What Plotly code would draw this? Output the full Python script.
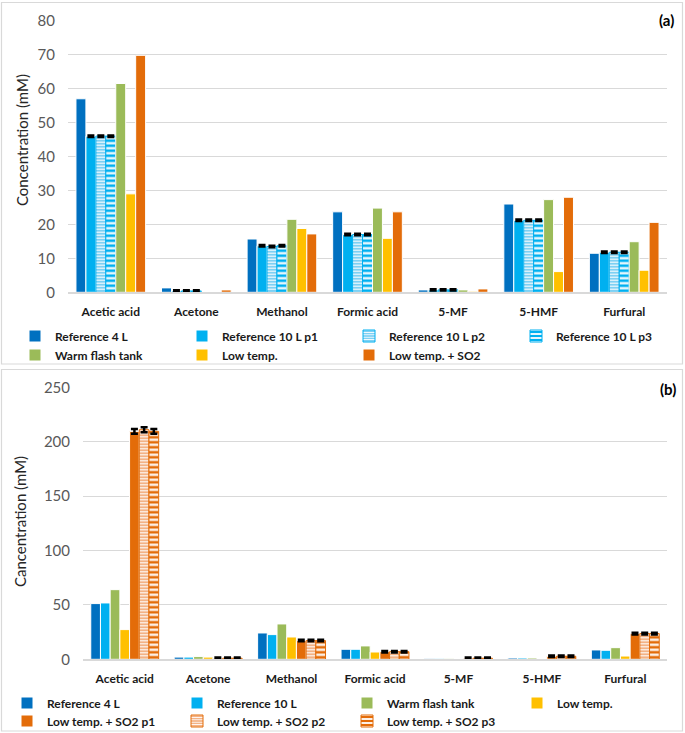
import plotly.graph_objects as go

W, H = 685, 733

categories = ["Acetic acid", "Acetone", "Methanol", "Formic acid", "5-MF", "5-HMF", "Furfural"]

# Panel (a)
a_ref4 = [57.0, 1.3, 15.7, 23.7, 0.7, 26.0, 11.5]
a_ref10_p1 = [46.0, 0.4, 13.7, 17.0, 0.7, 21.2, 11.8]
a_ref10_p2 = [46.0, 0.4, 13.5, 17.0, 0.7, 21.2, 11.8]
a_ref10_p3 = [46.0, 0.4, 13.7, 17.0, 0.7, 21.2, 11.8]
a_warm = [61.5, 0.0, 21.5, 24.8, 0.7, 27.3, 14.9]
a_low = [29.0, 0.0, 18.8, 15.9, 0.3, 6.1, 6.5]
a_so2 = [69.8, 0.7, 17.2, 23.7, 1.0, 28.0, 20.6]
a_err = [0.22, 0.2, 0.22, 0.22, 0.2, 0.22, 0.22]

# Panel (b)
b_ref4 = [51.2, 2.0, 24.2, 9.2, 0.4, 1.2, 8.6]
b_ref10 = [51.8, 2.0, 22.7, 9.2, 0.4, 1.2, 8.3]
b_warm = [64.0, 2.5, 32.5, 12.3, 0.4, 1.2, 10.7]
b_low = [27.3, 2.0, 20.5, 6.7, 0.0, 0.0, 3.0]
b_so2_p1 = [209.5, 1.0, 17.2, 7.0, 1.0, 2.8, 23.6]
b_so2_p2 = [211.0, 1.0, 17.2, 7.0, 1.0, 2.8, 23.6]
b_so2_p3 = [209.5, 1.0, 17.2, 7.0, 1.0, 2.8, 23.6]
b_err = [2.2, 0.7, 0.7, 0.7, 0.7, 0.7, 0.7]

C_REF4 = "#0070C0"
C_REF10 = "#00B0F0"
C_WARM = "#9BBB59"
C_LOW = "#FFC000"
C_SO2 = "#E36C09"

FONT = "Lato"


def fx(px):
    return px / W


def fy(py):
    return 1 - py / H


fig = go.Figure()
legends = {}
legend_count = [0]

GRID = "#D9D9D9"
legfont = dict(family=FONT, size=12, color="#1a1a1a", weight="bold")


def new_legend(xpx, ypx):
    legend_count[0] += 1
    n = legend_count[0]
    key = "legend" if n == 1 else f"legend{n}"
    legends[key] = dict(orientation="h", x=fx(xpx), y=fy(ypx), xanchor="left", yanchor="middle",
                        font=legfont, bgcolor="rgba(0,0,0,0)", itemclick=False,
                        itemdoubleclick=False)
    return key


def add_bar(x, y, name, color, xa, ya, leg_pos, pattern=None, err=None, line_color="white"):
    marker = dict(color=color, line=dict(color=line_color, width=1))
    if pattern:
        marker["pattern"] = pattern
    kw = {}
    if err is not None:
        kw["error_y"] = dict(type="data", array=err, visible=True, color="black",
                             thickness=2.5, width=3.5)
    fig.add_trace(go.Bar(x=x, y=y, name=name, marker=marker, xaxis=xa, yaxis=ya,
                         legend=new_legend(*leg_pos), **kw))


p2_blue = dict(shape="-", fgcolor="white", bgcolor="#6FCBF2", size=3, solidity=0.4, fillmode="replace")
p3_blue = dict(shape="-", fgcolor="white", bgcolor=C_REF10, size=5, solidity=0.45, fillmode="replace")
p2_or = dict(shape="-", fgcolor="white", bgcolor="#F2AA78", size=3, solidity=0.4, fillmode="replace")
p3_or = dict(shape="-", fgcolor="white", bgcolor=C_SO2, size=5, solidity=0.45, fillmode="replace")

# legend grid positions (pixels)
TA_X0, TA_DX, TA_R1, TA_R2 = 15, 167, 336, 355
TB_X0, TB_DX, TB_R1, TB_R2 = 7, 170, 703, 721

# (a)
add_bar(categories, a_ref4, "Reference 4 L", C_REF4, "x", "y", (TA_X0, TA_R1))
add_bar(categories, a_ref10_p1, "Reference 10 L p1", C_REF10, "x", "y", (TA_X0 + TA_DX, TA_R1), err=a_err)
add_bar(categories, a_ref10_p2, "Reference 10 L p2", C_REF10, "x", "y", (TA_X0 + 2 * TA_DX, TA_R1),
        pattern=p2_blue, err=a_err, line_color=C_REF10)
add_bar(categories, a_ref10_p3, "Reference 10 L p3", C_REF10, "x", "y", (TA_X0 + 3 * TA_DX, TA_R1),
        pattern=p3_blue, err=a_err, line_color=C_REF10)
add_bar(categories, a_warm, "Warm flash tank", C_WARM, "x", "y", (TA_X0, TA_R2))
add_bar(categories, a_low, "Low temp.", C_LOW, "x", "y", (TA_X0 + TA_DX, TA_R2))
add_bar(categories, a_so2, "Low temp. + SO2", C_SO2, "x", "y", (TA_X0 + 2 * TA_DX, TA_R2))

# (b)
add_bar(categories, b_ref4, "Reference 4 L", C_REF4, "x2", "y2", (TB_X0, TB_R1))
add_bar(categories, b_ref10, "Reference 10 L", C_REF10, "x2", "y2", (TB_X0 + TB_DX, TB_R1))
add_bar(categories, b_warm, "Warm flash tank", C_WARM, "x2", "y2", (TB_X0 + 2 * TB_DX, TB_R1))
add_bar(categories, b_low, "Low temp.", C_LOW, "x2", "y2", (TB_X0 + 3 * TB_DX, TB_R1))
add_bar(categories, b_so2_p1, "Low temp. + SO2 p1", C_SO2, "x2", "y2", (TB_X0, TB_R2), err=b_err)
add_bar(categories, b_so2_p2, "Low temp. + SO2 p2", C_SO2, "x2", "y2", (TB_X0 + TB_DX, TB_R2),
        pattern=p2_or, err=b_err, line_color=C_SO2)
add_bar(categories, b_so2_p3, "Low temp. + SO2 p3", C_SO2, "x2", "y2", (TB_X0 + 2 * TB_DX, TB_R2),
        pattern=p3_or, err=b_err, line_color=C_SO2)

tickfont_y = dict(family=FONT, size=15, color="#595959")
tickfont_x = dict(family=FONT, size=12, color="#1a1a1a", weight="bold")

fig.update_layout(
    width=W, height=H,
    margin=dict(l=0, r=0, t=0, b=0, autoexpand=False),
    paper_bgcolor="white", plot_bgcolor="white",
    barmode="group", bargap=0.186, bargroupgap=0.0,
    showlegend=True,
    xaxis=dict(domain=[fx(68), fx(667)], anchor="y", showline=True, linecolor=GRID, linewidth=1.5,
               ticks="", tickfont=tickfont_x, ticklabelstandoff=8, automargin=False),
    yaxis=dict(domain=[fy(292.3), fy(20.7)], anchor="x", range=[0, 80], dtick=10,
               showgrid=True, gridcolor=GRID, gridwidth=1, zeroline=False, showline=False,
               ticks="", tickfont=tickfont_y, ticklabelstandoff=12, automargin=False),
    xaxis2=dict(domain=[fx(83), fx(667)], anchor="y2", showline=True, linecolor=GRID, linewidth=1.5,
                ticks="", tickfont=tickfont_x, ticklabelstandoff=8, automargin=False),
    yaxis2=dict(domain=[fy(659.3), fy(387.3)], anchor="x2", range=[0, 250], dtick=50,
                showgrid=True, gridcolor=GRID, gridwidth=1, zeroline=False, showline=False,
                ticks="", tickfont=tickfont_y, ticklabelstandoff=12, automargin=False),
    **legends,
)

fig.add_shape(type="rect", xref="paper", yref="paper", x0=fx(1.5), x1=fx(682.5), y0=fy(364), y1=fy(2.5),
              line=dict(color=GRID, width=1.2), fillcolor="rgba(0,0,0,0)", layer="below")
fig.add_shape(type="rect", xref="paper", yref="paper", x0=fx(1.5), x1=fx(682.5), y0=fy(731), y1=fy(369.5),
              line=dict(color=GRID, width=1.2), fillcolor="rgba(0,0,0,0)", layer="below")

fig.add_annotation(text="Concentration (mM)", xref="paper", yref="paper", x=fx(22), y=fy(140),
                   xanchor="center", yanchor="middle",
                   textangle=-90, showarrow=False, font=dict(family=FONT, size=15, color="#262626"))
fig.add_annotation(text="Cancentration (mM)", xref="paper", yref="paper", x=fx(20), y=fy(522),
                   xanchor="center", yanchor="middle",
                   textangle=-90, showarrow=False, font=dict(family=FONT, size=15, color="#262626"))
fig.add_annotation(text="(a)", xref="paper", yref="paper", x=fx(666), y=fy(20), showarrow=False,
                   xanchor="center", yanchor="middle",
                   font=dict(family=FONT, size=15, color="black", weight="bold"))
fig.add_annotation(text="(b)", xref="paper", yref="paper", x=fx(668), y=fy(389), showarrow=False,
                   xanchor="center", yanchor="middle",
                   font=dict(family=FONT, size=15, color="black", weight="bold"))

fig.write_html(
    "out.html",
    config={"displayModeBar": False},
    post_script="document.body.style.margin='0';document.body.style.padding='0';"
                "document.body.style.overflow='hidden';",
)
